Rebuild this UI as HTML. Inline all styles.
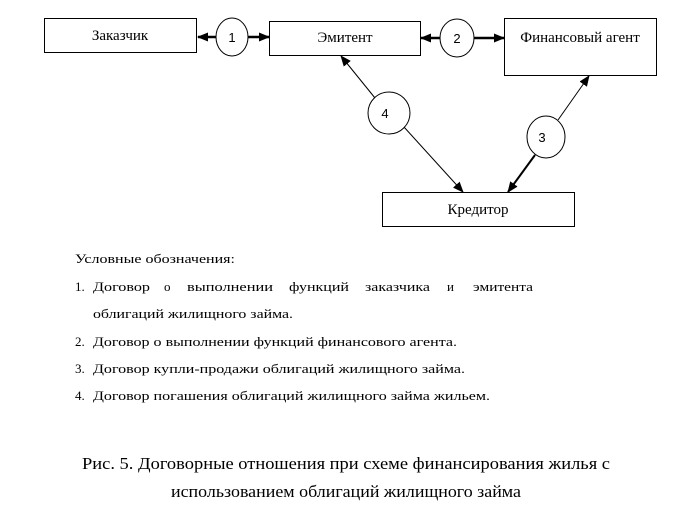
<!DOCTYPE html>
<html><head><meta charset="utf-8"><style>
html,body{margin:0;padding:0;background:#fff;width:700px;height:514px;overflow:hidden}
svg{display:block}
text{font-family:"Liberation Serif","DejaVu Serif",serif;fill:#000}
.s{font-family:"Liberation Sans","DejaVu Sans",sans-serif}
</style></head><body>
<svg width="700" height="514" viewBox="0 0 700 514" xmlns="http://www.w3.org/2000/svg">
<defs>
<marker id="a" markerWidth="11" markerHeight="9" refX="10" refY="4.5" orient="auto" markerUnits="userSpaceOnUse">
<path d="M0,0 L11,4.5 L0,9 z" fill="#000"/></marker>
</defs>
<g fill="none" stroke="#000" stroke-width="1">
<rect x="44.5" y="18.5" width="152" height="34"/>
<rect x="269.5" y="21.5" width="151" height="34"/>
<rect x="504.5" y="18.5" width="152" height="57"/>
<rect x="382.5" y="192.5" width="192" height="34"/>
<ellipse cx="232" cy="37" rx="16" ry="19"/>
<ellipse cx="457" cy="38" rx="17" ry="19"/>
<ellipse cx="389" cy="113" rx="21" ry="21"/>
<ellipse cx="546" cy="137" rx="19" ry="21"/>
</g>
<g stroke="#000" fill="none">
<line x1="216" y1="37" x2="198" y2="37" stroke-width="2.5" marker-end="url(#a)"/>
<line x1="248" y1="37" x2="269" y2="37" stroke-width="2.5" marker-end="url(#a)"/>
<line x1="440" y1="38" x2="421" y2="38" stroke-width="2.5" marker-end="url(#a)"/>
<line x1="474" y1="38" x2="504" y2="38" stroke-width="2.5" marker-end="url(#a)"/>
<line x1="375" y1="98" x2="341" y2="56" stroke-width="1" marker-end="url(#a)"/>
<line x1="404" y1="127" x2="463" y2="192" stroke-width="1" marker-end="url(#a)"/>
<line x1="558" y1="120" x2="589" y2="76" stroke-width="1" marker-end="url(#a)"/>
<line x1="535" y1="155" x2="508" y2="192" stroke-width="2" marker-end="url(#a)"/>
</g>
<text x="120" y="40" font-size="15" text-anchor="middle">Заказчик</text>
<text x="345" y="42" font-size="15" text-anchor="middle">Эмитент</text>
<text x="580" y="42" font-size="15" text-anchor="middle">Финансовый агент</text>
<text x="478" y="214" font-size="15" text-anchor="middle">Кредитор</text>
<text class="s" x="232" y="42" font-size="13" text-anchor="middle">1</text>
<text class="s" x="457" y="43" font-size="13" text-anchor="middle">2</text>
<text class="s" x="385" y="118" font-size="13" text-anchor="middle">4</text>
<text class="s" x="542" y="142" font-size="13" text-anchor="middle">3</text>
<g font-size="13">
<text x="75" y="263" textLength="160" lengthAdjust="spacingAndGlyphs">Условные обозначения:</text>
<text x="75" y="291">1.</text>
<text x="93" y="291" textLength="57" lengthAdjust="spacingAndGlyphs">Договор</text>
<text x="164" y="291">о</text>
<text x="187" y="291" textLength="86" lengthAdjust="spacingAndGlyphs">выполнении</text>
<text x="289" y="291" textLength="60" lengthAdjust="spacingAndGlyphs">функций</text>
<text x="365" y="291" textLength="65" lengthAdjust="spacingAndGlyphs">заказчика</text>
<text x="447" y="291">и</text>
<text x="473" y="291" textLength="60" lengthAdjust="spacingAndGlyphs">эмитента</text>
<text x="93" y="318" textLength="200" lengthAdjust="spacingAndGlyphs">облигаций жилищного займа.</text>
<text x="75" y="346">2.</text>
<text x="93" y="346" textLength="364" lengthAdjust="spacingAndGlyphs">Договор о выполнении функций финансового агента.</text>
<text x="75" y="373">3.</text>
<text x="93" y="373" textLength="372" lengthAdjust="spacingAndGlyphs">Договор купли-продажи облигаций жилищного займа.</text>
<text x="75" y="400">4.</text>
<text x="93" y="400" textLength="397" lengthAdjust="spacingAndGlyphs">Договор погашения облигаций жилищного займа жильем.</text>
</g>
<text x="82" y="469" font-size="17" textLength="528" lengthAdjust="spacingAndGlyphs">Рис. 5. Договорные отношения при схеме финансирования жилья с</text>
<text x="171" y="497" font-size="17" textLength="350" lengthAdjust="spacingAndGlyphs">использованием облигаций жилищного займа</text>
</svg>
</body></html>
